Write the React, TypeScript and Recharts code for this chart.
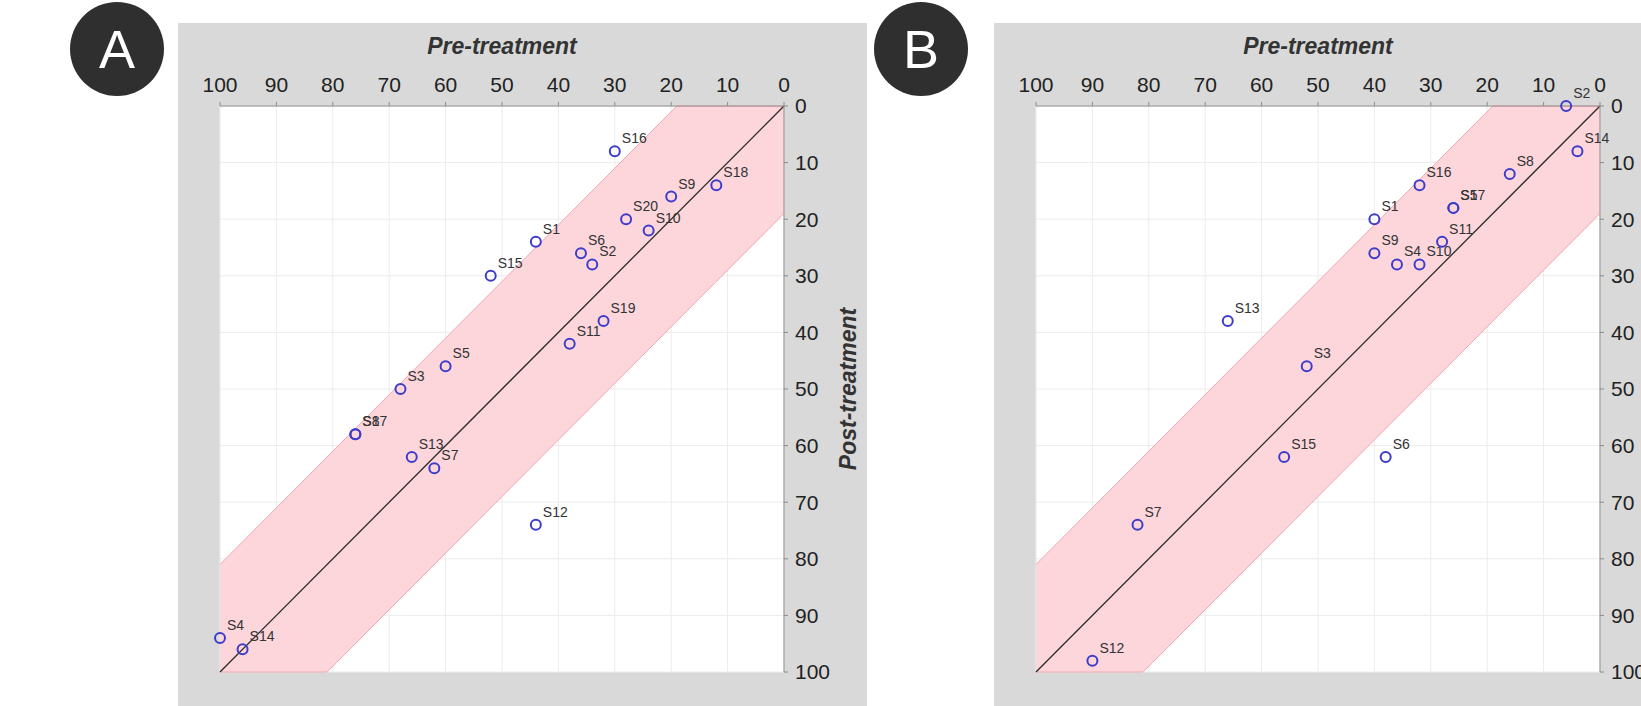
import { Area, CartesianGrid, ComposedChart, ReferenceLine, Scatter, XAxis, YAxis } from "recharts";

const TICKS = [0, 10, 20, 30, 40, 50, 60, 70, 80, 90, 100];

// agreement band (±19) corners, clipped to the 0-100 square
const BAND = [
  { pre: 0, range: [0, 19] },
  { pre: 19, range: [0, 38] },
  { pre: 81, range: [62, 100] },
  { pre: 100, range: [81, 100] },
];

const NAMES_A = ["S1", "S2", "S3", "S4", "S5", "S6", "S7", "S8", "S9", "S10", "S11", "S12", "S13", "S14", "S15", "S16", "S17", "S18", "S19", "S20"];
const PRE_A = [44, 34, 68, 100, 60, 36, 62, 76, 20, 24, 38, 44, 66, 96, 52, 30, 76, 12, 32, 28];
const POST_A = [24, 28, 50, 94, 46, 26, 64, 58, 16, 22, 42, 74, 62, 96, 30, 8, 58, 14, 38, 20];

const NAMES_B = ["S1", "S2", "S3", "S4", "S5", "S6", "S7", "S8", "S9", "S10", "S11", "S12", "S13", "S14", "S15", "S16", "S17"];
const PRE_B = [40, 6, 52, 36, 26, 38, 82, 16, 40, 32, 28, 90, 66, 4, 56, 32, 26];
const POST_B = [20, 0, 46, 28, 18, 62, 74, 12, 26, 28, 24, 98, 38, 8, 62, 14, 18];

const FONT = "'Liberation Sans', Arial, Helvetica, sans-serif";
const AXIS = "#8a8a8a";

type Pt = { name: string; pre: number; post: number };

const toPoints = (names: string[], pre: number[], post: number[]): Pt[] =>
  names.map((name, i) => ({ name, pre: pre[i], post: post[i] }));

const Marker = (props: any) => {
  const { cx, cy, payload } = props;
  return (
    <g>
      <circle cx={cx} cy={cy} r={5} fill="none" stroke="#3d3dc9" strokeWidth={2} />
      <text x={cx + 7} y={cy - 8} fontSize={14} fontFamily={FONT} fill="#333">
        {payload.name}
      </text>
    </g>
  );
};

const titleStyle = {
  fill: "#333",
  fontSize: 23,
  fontWeight: 700,
  fontStyle: "italic",
  fontFamily: FONT,
};

function Panel({ points, left }: { points: Pt[]; left: number }) {
  return (
    <div style={{ position: "absolute", left, top: 23, background: "#d9d9d9" }}>
      <ComposedChart
        width={689}
        height={683}
        data={BAND}
        margin={{ top: 0, right: 0, bottom: 34, left: 42 }}
      >
        <CartesianGrid fill="#ffffff" stroke="#ececec" />
        <XAxis
          dataKey="pre"
          type="number"
          domain={[0, 100]}
          ticks={TICKS}
          reversed
          orientation="top"
          height={83}
          tickSize={4}
          tickMargin={10}
          stroke={AXIS}
          tick={{ fill: "#222", fontSize: 21, fontFamily: FONT }}
          label={{ value: "Pre-treatment", position: "insideTop", offset: 15, style: titleStyle }}
        />
        <YAxis
          dataKey="post"
          type="number"
          domain={[0, 100]}
          ticks={TICKS}
          reversed
          orientation="right"
          width={83}
          tickSize={4}
          tickMargin={7}
          stroke={AXIS}
          tick={{ fill: "#222", fontSize: 21, fontFamily: FONT, textAnchor: "start" }}
          label={{ value: "Post-treatment", angle: -90, position: "center", dx: 22, style: titleStyle }}
        />
        <Area
          type="linear"
          dataKey="range"
          fill="#fdd6dc"
          fillOpacity={1}
          stroke="#f3a6b0"
          strokeWidth={1}
          isAnimationActive={false}
          activeDot={false}
          dot={false}
        />
        <ReferenceLine
          segment={[
            { x: 0, y: 0 },
            { x: 100, y: 100 },
          ]}
          stroke="#2a2a2a"
          strokeWidth={1.3}
        />
        <Scatter data={points} shape={Marker} isAnimationActive={false} />
      </ComposedChart>
    </div>
  );
}

function Badge({ letter, x }: { letter: string; x: number }) {
  return (
    <svg style={{ position: "absolute", left: x - 48, top: 1 }} width={96} height={96}>
      <circle cx={48} cy={48} r={47} fill="#2f2f2f" />
      <text x={48} y={67} textAnchor="middle" fontSize={54} fontFamily={FONT} fill="#fff">
        {letter}
      </text>
    </svg>
  );
}

export default function App() {
  return (
    <div
      style={{
        position: "fixed",
        left: 0,
        top: 0,
        width: 1641,
        height: 706,
        overflow: "hidden",
        background: "#fff",
      }}
    >
      <Panel points={toPoints(NAMES_A, PRE_A, POST_A)} left={178} />
      <Panel points={toPoints(NAMES_B, PRE_B, POST_B)} left={994} />
      <Badge letter="A" x={117} />
      <Badge letter="B" x={921} />
    </div>
  );
}
